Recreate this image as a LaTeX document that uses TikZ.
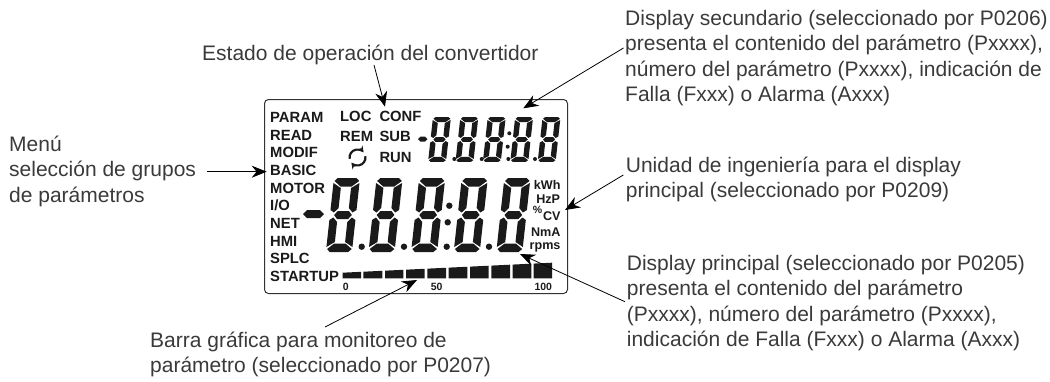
\documentclass[tikz,border=0pt]{standalone}
\usepackage{fontspec}
\setmainfont{Liberation Sans}
\usetikzlibrary{arrows.meta}
\definecolor{txt}{HTML}{3A3A3A}
\definecolor{lcd}{HTML}{1A1A1A}
\newcommand{\lcddigit}[4]{% x, y, xscale, yscale ; local box 28x74, xslant
\begin{scope}[shift={(#1,#2)},xslant=.11,xscale=#3,yscale=#4]
\fill[lcd] (4,0)--(24,0)--(27.5,3)--(20,8.5)--(8,8.5)--(1,3)--cycle;
\fill[lcd] (0,5)--(8.5,10)--(8.5,30)--(4,34.5)--(0,32)--cycle;
\fill[lcd] (28,5)--(28,32)--(24,34.5)--(19.5,30)--(19.5,10)--cycle;
\fill[lcd] (8,33)--(20,33)--(23.5,37)--(20,41)--(8,41)--(4.5,37)--cycle;
\fill[lcd] (0,42)--(4,39.5)--(8.5,44)--(8.5,64)--(0,69)--cycle;
\fill[lcd] (28,42)--(28,69)--(19.5,64)--(19.5,44)--(24,39.5)--cycle;
\fill[lcd] (8,65.5)--(20,65.5)--(27.5,71)--(24,74)--(4,74)--(1,71)--cycle;
\end{scope}}
\tikzset{
 x=1pt,y=-1pt,
 note/.style={anchor=north west,align=left,inner sep=0pt,text=txt,font=\fontsize{21}{25.6}\selectfont},
 lbl/.style={anchor=base west,inner sep=0pt,text=lcd,font=\fontsize{14.8}{16}\selectfont\bfseries},
 unit/.style={anchor=base east,inner sep=0pt,text=lcd,font=\fontsize{12.6}{14}\selectfont\bfseries},
 tick/.style={anchor=center,inner sep=0pt,text=lcd,font=\fontsize{10.5}{11}\selectfont\bfseries},
 lead/.style={draw=black,line width=.8pt,-{Stealth[length=15pt,width=12pt]}},
}
\begin{document}
\begin{tikzpicture}
\useasboundingbox (0,0) rectangle (1050,381);
% LCD frame
\node[draw=black!80,line width=1pt,rounded corners=4pt,minimum width=303pt,minimum height=194pt,inner sep=0pt,anchor=north west] (frame) at (264,99) {};
% side labels
\foreach \t/\b in {PARAM/122.3,READ/140,MODIF/157.7,BASIC/175.3,MOTOR/193,I{/}O/210.7,NET/228.3,HMI/246,SPLC/263.7,STARTUP/281.3}
  \node[lbl] at (270,\b) {\t};
\node[lbl] (loc) at (340,121) {LOC};
\node[lbl] (conf) at (379.3,121) {CONF};
\node[lbl] (rem) at (340,141.7) {REM};
\node[lbl] (sub) at (379.3,141.7) {SUB};
\node[lbl] (run) at (379.3,162.7) {RUN};
% rotating icon
\draw[lcd,line width=2.2pt,-{Stealth[length=6pt,width=7pt]}] (357.5,157.5) ++(170:8) arc[start angle=170,end angle=320,radius=8];
\draw[lcd,line width=2.2pt,-{Stealth[length=6pt,width=7pt]}] (357.5,157.5) ++(-10:8) arc[start angle=-10,end angle=140,radius=8];
% units
\node[unit] at (560.7,189.3) {kWh};
\node[unit] at (560.3,203.3) {HzP};
\node[unit] at (560.7,220.7) {CV};
\node[unit,font=\fontsize{10.5}{12}\selectfont\bfseries] at (542.5,213.5) {\%};
\node[unit] at (560.7,236) {NmA};
\node[unit] at (560.7,249.5) {rpms};
\node[tick] at (345.7,287.3) {0};
\node[tick] at (436.7,287.3) {50};
\node[tick] at (543.3,287.3) {100};
% main digits
\foreach \i in {0,...,4} { \lcddigit{334+42.6*\i}{178}{.93}{1} }
\foreach \x in {361.7,404,446.7,489} \fill[lcd] (\x,246.7) circle[radius=3.2];
\fill[lcd] (449.3,205.7) circle[radius=3.2];
\fill[lcd] (447.7,222.3) circle[radius=3.2];
\fill[lcd] (303,214)--(307,210)--(320,210)--(324,214)--(320,218)--(307,218)--cycle;
% small digits
\foreach \i in {0,...,4} { \lcddigit{433+27.4*\i}{117}{.64}{.608} }
\foreach \x in {454.3,481.7,508.3,535} \fill[lcd] (\x,159) circle[radius=2];
\fill[lcd] (509.3,133.3) circle[radius=2];
\fill[lcd] (507.7,146.7) circle[radius=2];
\fill[lcd] (418,139)--(420.5,136.5)--(425,136.5)--(427.5,139)--(425,141.5)--(420.5,141.5)--cycle;
% bar graph
\foreach \a/\b in {278/333,340/397,405/460,468/524,532/588,596/652,660/716,724/780,788/844,851/906}
 \fill[lcd] ({250+\a/3},278.3)--({250+\b/3},278.3)--({250+\b/3},{272.7-(\b-278)/628*10})--({250+\a/3},{272.7-(\a-278)/628*10})--cycle;
% notes
\node[note] (estado) at (202,44.7) {Estado de operación del convertidor};
\node[note] (menu) at (9,135.7) {Menú\\selección de grupos\\de parámetros};
\node[note] (sec) at (625,9.7) {Display secundario (seleccionado por P0206)\\presenta el contenido del parámetro (Pxxxx),\\número del parámetro (Pxxxx), indicación de\\Falla (Fxxx) o Alarma (Axxx)};
\node[note] (uni) at (625.7,156.4) {Unidad de ingeniería para el display\\principal (seleccionado por P0209)};
\node[note] (pri) at (626.7,254.7) {Display principal (seleccionado por P0205)\\presenta el contenido del parámetro\\(Pxxxx), número del parámetro (Pxxxx),\\indicación de Falla (Fxxx) o Alarma (Axxx)};
\node[note] (bar) at (150,331.4) {Barra gráfica para monitoreo de\\parámetro (seleccionado por P0207)};
% connectors
\coordinate (t1) at (385,106.7);
\coordinate (t2) at (523.3,108.3);
\coordinate (t3) at (266.7,171.7);
\coordinate (t4) at (565,210);
\coordinate (t5) at (520,254);
\coordinate (t6) at (417,280);
\coordinate (s1) at (374,65);
\coordinate (s2) at (623.5,48);
\coordinate (s3) at (207.3,171.7);
\coordinate (s4) at (623.3,175);
\coordinate (s5) at (625,301.7);
\coordinate (s6) at (325,327);
\draw[lead] (s1) -- (t1);
\draw[lead] (s2) -- (t2);
\draw[lead] (s3) -- (t3);
\draw[lead] (s4) -- (t4);
\draw[lead] (s5) -- (t5);
\draw[lead] (s6) -- (t6);
\end{tikzpicture}
\end{document}
